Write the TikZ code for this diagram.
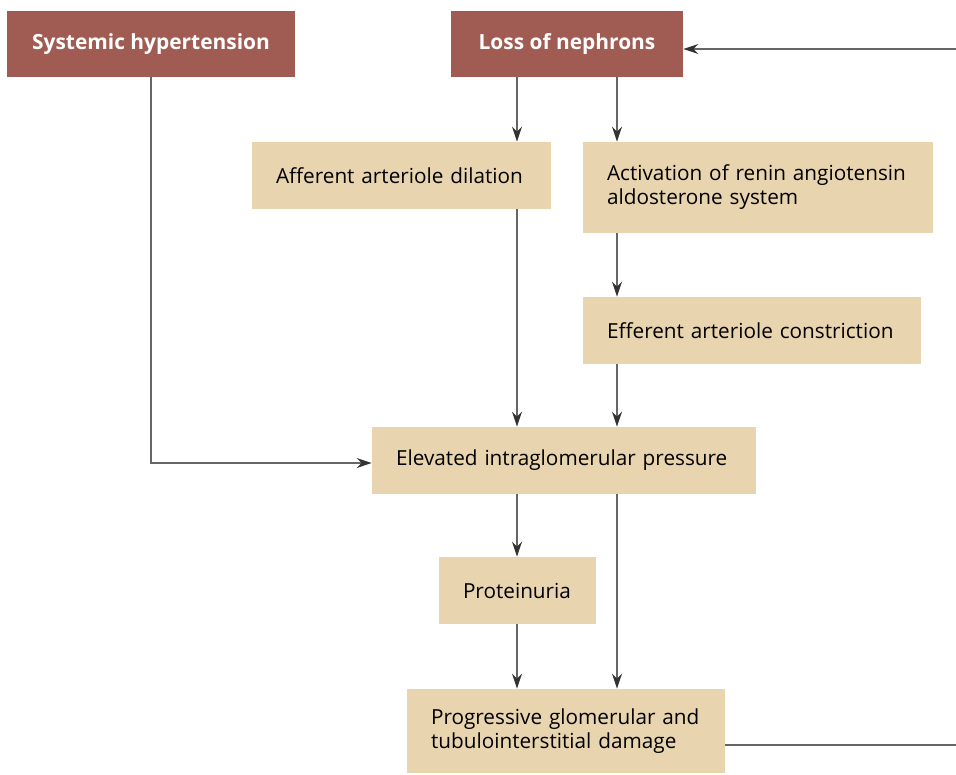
\documentclass[tikz,border=0pt]{standalone}
\usepackage{fontspec}
\setmainfont{Open Sans}
\usetikzlibrary{arrows.meta}
\definecolor{causered}{HTML}{A05C52}
\definecolor{steptan}{HTML}{E8D4AE}
\definecolor{linegray}{HTML}{666666}
\definecolor{tipgray}{HTML}{333333}
\tikzset{
  cause/.style={fill=causered, text=white, font=\fontsize{11.9}{13.6}\selectfont\bfseries,
    minimum height=1.32cm, inner sep=0pt},
  stepbox/.style={fill=steptan, text=black, font=\fontsize{11.8}{13.6}\selectfont,
    align=left, inner xsep=0.48cm, inner ysep=0pt, minimum height=1.34cm},
  arr/.style={draw=linegray, line width=0.75pt,
    -{Stealth[length=0.3cm,width=0.2cm,color=tipgray]}},
  ln/.style={draw=linegray, line width=0.75pt}
}
\begin{document}
\begin{tikzpicture}[x=0.02cm,y=-0.02cm]
\useasboundingbox (0,0) rectangle (956,774);
\node[cause, minimum width=5.76cm] (sys) at (151,44) {Systemic hypertension};
\node[cause, minimum width=4.64cm] (loss) at (567,44) {Loss of nephrons};
\node[stepbox, text width=5.02cm] (aff) at (401.5,175.5) {Afferent arteriole dilation};
\node[stepbox, text width=6.04cm, minimum height=1.82cm] (raas) at (758,187.5) {Activation of renin angiotensin\\aldosterone system};
\node[stepbox, text width=5.80cm] (eff) at (752,330.5) {Efferent arteriole constriction};
\node[stepbox, text width=6.72cm] (elev) at (564,460.5) {Elevated intraglomerular pressure};
\node[stepbox, text width=2.18cm] (prot) at (517.5,590.5) {Proteinuria};
\node[stepbox, text width=5.40cm, minimum height=1.68cm] (prog) at (566,731) {Progressive glomerular and\\tubulointerstitial damage};
% columns of the arrows and the return line (off the page on the right)
\coordinate (cl) at (517,0);
\coordinate (cr) at (617,0);
\coordinate (fb) at (960,0);
\path[arr] (loss.south -| cl) -- (aff.north -| cl);
\path[arr] (loss.south -| cr) -- (raas.north -| cr);
\path[arr] (raas.south -| cr) -- (eff.north -| cr);
\path[arr] (aff.south -| cl) -- (elev.north -| cl);
\path[arr] (eff.south -| cr) -- (elev.north -| cr);
\path[arr] (elev.south -| cl) -- (prot.north -| cl);
\path[arr] (elev.south -| cr) -- (prog.north -| cr);
\path[arr] (prot.south -| cl) -- (prog.north -| cl);
\path[arr] (sys.south) |- ([yshift=-0.05cm]elev.west);
\path[ln] ([yshift=-0.28cm]prog.east) -- ([yshift=-0.28cm]prog.east -| fb) -- ([yshift=-0.1cm]loss.east -| fb);
\path[arr] ([yshift=-0.1cm]loss.east -| fb) -- ([yshift=-0.1cm]loss.east);
\end{tikzpicture}
\end{document}
